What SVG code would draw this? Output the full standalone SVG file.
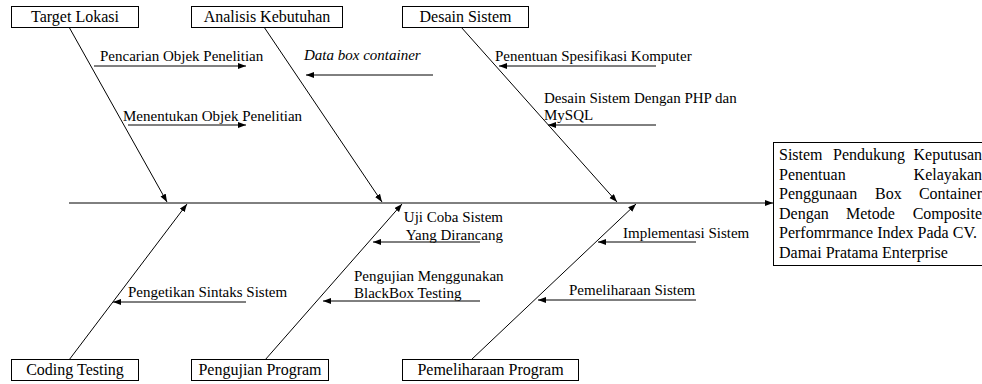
<svg xmlns="http://www.w3.org/2000/svg" width="982" height="384" viewBox="0 0 982 384">
<style>
  .box { fill: #fff; stroke: #000; stroke-width: 1; }
  .ln { fill: none; stroke: #000; stroke-width: 1; marker-end: url(#ah); }
  .t { font-family: 'Liberation Serif', 'DejaVu Serif', serif; font-size: 16px; fill: #000; }
  .c { text-anchor: middle; }
  .lb { font-family: 'Liberation Serif', 'DejaVu Serif', serif; font-size: 15px; fill: #000; }
  .it { font-style: italic; }
  .e { text-anchor: end; }
</style>
<defs>
  <marker id="ah" markerUnits="userSpaceOnUse" markerWidth="9" markerHeight="7" refX="8" refY="3" orient="auto">
    <path d="M0,0 L8,3 L0,6 z" fill="#000"/>
  </marker>
</defs>
<rect width="982" height="384" fill="#fff"/>

<g id="connectors">
  <line class="ln" x1="69" y1="203" x2="773" y2="203"/>
  <line class="ln" x1="69" y1="27" x2="167" y2="202"/>
  <line class="ln" x1="264" y1="27" x2="382" y2="202"/>
  <line class="ln" x1="461" y1="27" x2="617" y2="202"/>
  <line class="ln" x1="69" y1="360" x2="187" y2="204"/>
  <line class="ln" x1="265" y1="360" x2="402" y2="204"/>
  <line class="ln" x1="471" y1="360" x2="636" y2="204"/>
  <line class="ln" x1="94" y1="66" x2="246" y2="66"/>
  <line class="ln" x1="128" y1="125" x2="246" y2="125"/>
  <line class="ln" x1="433" y1="75" x2="306" y2="75"/>
  <line class="ln" x1="656" y1="66" x2="499" y2="66"/>
  <line class="ln" x1="656" y1="125" x2="548" y2="125"/>
  <line class="ln" x1="480" y1="242" x2="373" y2="242"/>
  <line class="ln" x1="480" y1="301" x2="323" y2="301"/>
  <line class="ln" x1="246" y1="302" x2="113" y2="302"/>
  <line class="ln" x1="696" y1="242" x2="598" y2="242"/>
  <line class="ln" x1="696" y1="300" x2="538" y2="300"/>
</g>

<g id="target-lokasi">
  <rect class="box" x="11.5" y="6.5" width="127" height="21"/>
  <text class="t c" x="75" y="22">Target Lokasi</text>
</g>
<g id="analisis-kebutuhan">
  <rect class="box" x="191.5" y="6.5" width="151" height="21"/>
  <text class="t c" x="267" y="22">Analisis Kebutuhan</text>
</g>
<g id="desain-sistem">
  <rect class="box" x="402.5" y="6.5" width="126" height="21"/>
  <text class="t c" x="465.5" y="22">Desain Sistem</text>
</g>
<g id="coding-testing">
  <rect class="box" x="11.5" y="359.5" width="127" height="21"/>
  <text class="t c" x="75" y="375">Coding Testing</text>
</g>
<g id="pengujian-program">
  <rect class="box" x="191.5" y="359.5" width="137" height="21"/>
  <text class="t c" x="260" y="375">Pengujian Program</text>
</g>
<g id="pemeliharaan-program">
  <rect class="box" x="402.5" y="359.5" width="176" height="21"/>
  <text class="t c" x="490.5" y="375">Pemeliharaan Program</text>
</g>

<g id="labels">
  <text class="lb" x="100" y="61">Pencarian Objek Penelitian</text>
  <text class="lb" x="123" y="121">Menentukan Objek Penelitian</text>
  <text class="lb it" x="304" y="60">Data box container</text>
  <text class="lb" x="495" y="61">Penentuan Spesifikasi Komputer</text>
  <text class="lb" x="544" y="103">Desain Sistem Dengan PHP dan</text>
  <text class="lb" x="544" y="120">MySQL</text>
  <text class="lb e" x="503" y="222">Uji Coba Sistem</text>
  <text class="lb e" x="503" y="240">Yang Dirancang</text>
  <text class="lb" x="354" y="281">Pengujian Menggunakan</text>
  <text class="lb" x="354" y="298">BlackBox Testing</text>
  <text class="lb" x="128" y="297">Pengetikan Sintaks Sistem</text>
  <text class="lb" x="623" y="238">Implementasi Sistem</text>
  <text class="lb" x="569" y="295">Pemeliharaan Sistem</text>
</g>

<g id="hasil">
  <rect class="box" x="773.5" y="142.5" width="220" height="123"/>
  <text class="t" x="779" y="160">Sistem</text>
  <text class="t" x="833" y="160">Pendukung</text>
  <text class="t e" x="982" y="160">Keputusan</text>
  <text class="t" x="779" y="179.5">Penentuan</text>
  <text class="t e" x="982" y="179.5">Kelayakan</text>
  <text class="t" x="779" y="199">Penggunaan</text>
  <text class="t" x="875" y="199">Box</text>
  <text class="t e" x="982" y="199">Container</text>
  <text class="t" x="779" y="218.5">Dengan</text>
  <text class="t" x="846" y="218.5">Metode</text>
  <text class="t e" x="982" y="218.5">Composite</text>
  <text class="t" x="779" y="238">Perfomrmance Index Pada CV.</text>
  <text class="t" x="779" y="257.5">Damai Pratama Enterprise</text>
</g>
</svg>
